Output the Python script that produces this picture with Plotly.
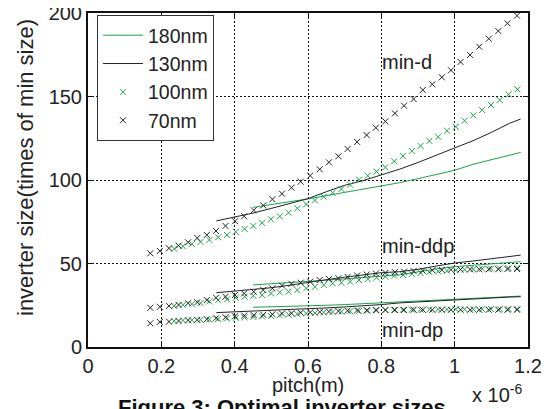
import plotly.graph_objects as go

# pitch values (units of 1e-6 m)
x70 = [0.170, 0.196, 0.221, 0.247, 0.273, 0.298, 0.324, 0.349, 0.375, 0.401,
       0.426, 0.452, 0.478, 0.503, 0.529, 0.555, 0.580, 0.606, 0.632, 0.657,
       0.683, 0.708, 0.734, 0.760, 0.785, 0.811, 0.837, 0.862, 0.888, 0.913,
       0.939, 0.965, 0.990, 1.016, 1.042, 1.067, 1.093, 1.119, 1.144, 1.170]
x100 = [0.235, 0.259, 0.283, 0.307, 0.331, 0.355, 0.379, 0.403, 0.427, 0.451,
        0.475, 0.499, 0.523, 0.547, 0.571, 0.595, 0.619, 0.643, 0.667, 0.691,
        0.715, 0.739, 0.763, 0.787, 0.811, 0.835, 0.859, 0.883, 0.907, 0.931,
        0.955, 0.979, 1.003, 1.027, 1.051, 1.075, 1.099, 1.123, 1.147, 1.171]
x130 = [0.35, 0.40, 0.45, 0.50, 0.55, 0.60, 0.65, 0.70, 0.75, 0.80, 0.85,
        0.90, 0.95, 1.00, 1.05, 1.10, 1.15, 1.18]
x180 = [0.45, 0.50, 0.55, 0.60, 0.65, 0.70, 0.75, 0.80, 0.85, 0.90, 0.95,
        1.00, 1.05, 1.10, 1.15, 1.18]

# 70nm
d70 = [56.1, 57.5, 59.1, 60.7, 62.7, 65.3, 67.1, 69.5, 72.5, 75.3,
       78.3, 81.9, 84.8, 88.5, 91.8, 95.4, 99.0, 102.6, 106.4, 110.6,
       114.2, 118.6, 122.8, 126.9, 131.3, 135.1, 139.9, 144.5, 148.5, 153.9,
       157.3, 161.5, 165.7, 170.7, 174.9, 179.8, 184.6, 189.2, 193.8, 198.4]
ddp70 = [23.5, 24.1, 24.6, 25.2, 26.2, 26.8, 28.1, 29.5, 30.1, 31.1,
         32.1, 33.1, 34.1, 35.1, 36.8, 37.8, 38.5, 39.1, 40.1, 40.7,
         41.2, 42.0, 42.8, 43.4, 44.0, 44.4, 44.8, 45.1, 45.5, 45.7,
         46.0, 46.1, 46.3, 46.4, 46.5, 46.5, 46.6, 46.6, 46.7, 46.7]
dp70 = [14.2, 15.0, 15.2, 15.6, 16.0, 16.2, 16.6, 17.2, 17.8, 18.4,
        18.8, 19.1, 19.3, 19.6, 20.0, 20.2, 20.5, 20.7, 21.0, 21.2,
        21.5, 21.7, 21.9, 22.0, 22.1, 22.2, 22.2, 22.2, 22.3, 22.3,
        22.3, 22.3, 22.3, 22.3, 22.3, 22.3, 22.3, 22.3, 22.3, 22.3]

# 100nm
d100 = [58.9, 60.3, 61.7, 62.9, 64.1, 65.7, 67.1, 69.0, 70.7, 72.5,
        74.3, 76.5, 78.2, 80.4, 83.0, 85.4, 87.8, 90.0, 92.4, 94.6,
        97.2, 100.2, 102.6, 105.0, 107.6, 111.2, 114.3, 117.4, 120.4, 123.4,
        125.9, 129.5, 131.9, 135.5, 138.7, 141.9, 144.9, 147.9, 151.3, 154.3]
ddp100 = [24.6, 25.3, 25.7, 26.3, 27.3, 28.1, 28.5, 29.5, 30.1, 30.7,
          31.1, 32.1, 32.7, 33.1, 34.1, 35.1, 36.1, 37.1, 38.1, 38.4,
          39.1, 40.1, 40.7, 41.5, 42.1, 42.7, 43.1, 43.7, 44.3, 44.8,
          45.3, 45.7, 46.0, 46.3, 46.6, 46.8, 47.0, 47.1, 47.2, 47.3]
dp100 = [15.6, 15.9, 16.1, 16.3, 16.5, 16.8, 17.1, 17.4, 17.7, 18.0,
         18.3, 18.6, 19.0, 19.4, 19.7, 20.1, 20.4, 20.7, 21.0, 21.2,
         21.4, 21.6, 21.8, 22.0, 22.1, 22.2, 22.3, 22.4, 22.4, 22.5,
         22.5, 22.5, 22.6, 22.6, 22.6, 22.6, 22.7, 22.7, 22.7, 22.7]

# 130nm
d130 = [75.5, 77.8, 80.2, 83.0, 85.8, 88.8, 93.0, 96.8, 99.6, 103.0,
        106.5, 110.5, 115.0, 119.2, 123.5, 128.5, 134.0, 136.5]
ddp130 = [32.5, 33.4, 34.3, 35.5, 37.0, 38.8, 40.3, 41.8, 43.2, 44.5,
          45.1, 46.5, 48.5, 50.3, 51.5, 52.8, 54.0, 55.0]
dp130 = [20.6, 21.0, 21.5, 22.0, 22.4, 22.8, 23.4, 24.0, 24.6, 25.4,
         26.4, 27.0, 27.8, 28.5, 29.0, 29.5, 29.9, 30.1]

# 180nm
d180 = [83.6, 85.5, 87.0, 88.7, 90.6, 92.6, 94.2, 96.2, 98.4, 100.8,
        103.2, 105.8, 109.4, 112.2, 115.0, 116.5]
ddp180 = [37.2, 37.8, 38.5, 39.3, 40.0, 40.8, 41.5, 42.3, 43.2, 45.0,
          46.8, 48.1, 49.0, 49.8, 50.6, 51.1]
dp180 = [23.8, 24.0, 24.3, 24.6, 25.0, 25.4, 25.9, 26.5, 27.1, 27.6,
         28.1, 28.6, 29.1, 29.6, 30.2, 30.5]

GREEN = "#17a44a"
BLACK = "#222222"
FONT = "Liberation Sans, Arial, Helvetica, sans-serif"

fig = go.Figure()


def add_line(x, ys, name, color):
    for i, y in enumerate(ys):
        fig.add_trace(go.Scatter(
            x=x, y=y, mode="lines", name=name, legendgroup=name,
            showlegend=(i == 0), line=dict(color=color, width=1)))


def add_marks(x, ys, name, color):
    for i, y in enumerate(ys):
        fig.add_trace(go.Scatter(
            x=x, y=y, mode="markers", name=name, legendgroup=name,
            showlegend=(i == 0),
            marker=dict(symbol="x-thin", size=6, color=color,
                        line=dict(color=color, width=1))))


add_line(x180, [d180, ddp180, dp180], "180nm", GREEN)
add_line(x130, [d130, ddp130, dp130], "130nm", BLACK)
add_marks(x100, [d100, ddp100, dp100], "100nm", GREEN)
add_marks(x70, [d70, ddp70, dp70], "70nm", BLACK)

axis_common = dict(
    showline=True, linecolor="#111", linewidth=2, mirror="ticks",
    ticks="inside", ticklen=5, tickwidth=1, tickcolor="#111",
    showgrid=True, gridcolor="#111", gridwidth=1, griddash="2px,2px",
    zeroline=False, automargin=False, ticklabeloverflow="allow",
    tickfont=dict(family=FONT, size=20, color="#222"),
)

fig.update_xaxes(range=[0, 1.2], dtick=0.2, tick0=0, **axis_common)
fig.update_yaxes(range=[0, 200], dtick=50, tick0=0, **axis_common)

# page has an 8px body margin; the figure is placed at (8, 8)
OFF = 8
W, H = 558 - OFF, 409 - OFF
L, R, T, B = 88 - OFF, 30, 13 - OFF, 62
pw, ph = W - L - R, H - T - B


def px(xp):
    return (xp - OFF - L) / pw


def py(yp):
    return (H - B - (yp - OFF)) / ph


fig.update_layout(
    width=W, height=H,
    margin=dict(l=L, r=R, t=T, b=B, autoexpand=False),
    paper_bgcolor="white", plot_bgcolor="white",
    font=dict(family=FONT, size=20, color="#222"),
    showlegend=True,
    legend=dict(x=px(97), y=py(15), xanchor="left", yanchor="top",
                bgcolor="white", bordercolor="#333", borderwidth=1,
                font=dict(family=FONT, size=19.5, color="#222"),
                itemwidth=40, tracegroupgap=0),
    annotations=[
        dict(text="min-d", x=0.796, y=170.7, xref="x", yref="y",
             xanchor="left", yanchor="middle", showarrow=False,
             font=dict(family=FONT, size=20, color="#222")),
        dict(text="min-ddp", x=0.796, y=60.5, xref="x", yref="y",
             xanchor="left", yanchor="middle", showarrow=False,
             font=dict(family=FONT, size=20, color="#222")),
        dict(text="min-dp", x=0.796, y=10.2, xref="x", yref="y",
             xanchor="left", yanchor="middle", showarrow=False,
             font=dict(family=FONT, size=20, color="#222")),
        dict(text="pitch(m)", x=0.5, y=py(385), xref="paper", yref="paper",
             xanchor="center", yanchor="middle", showarrow=False,
             font=dict(family=FONT, size=20, color="#222")),
        dict(text="x 10<sup>-6</sup>", x=px(470), y=py(393), xref="paper",
             yref="paper", xanchor="left", yanchor="middle", showarrow=False,
             font=dict(family=FONT, size=20, color="#222")),
        dict(text="inverter size(times of min size)", x=px(25), y=py(168),
             xref="paper", yref="paper", xanchor="center", yanchor="middle",
             textangle=-90, showarrow=False,
             font=dict(family=FONT, size=22, color="#222")),
        dict(text="<b>Figure 3: Optimal inverter sizes</b>", x=px(116),
             y=py(393), xref="paper", yref="paper", xanchor="left",
             yanchor="top", showarrow=False,
             font=dict(family=FONT, size=22, color="#111")),
    ],
)

fig.write_html("out.html")
